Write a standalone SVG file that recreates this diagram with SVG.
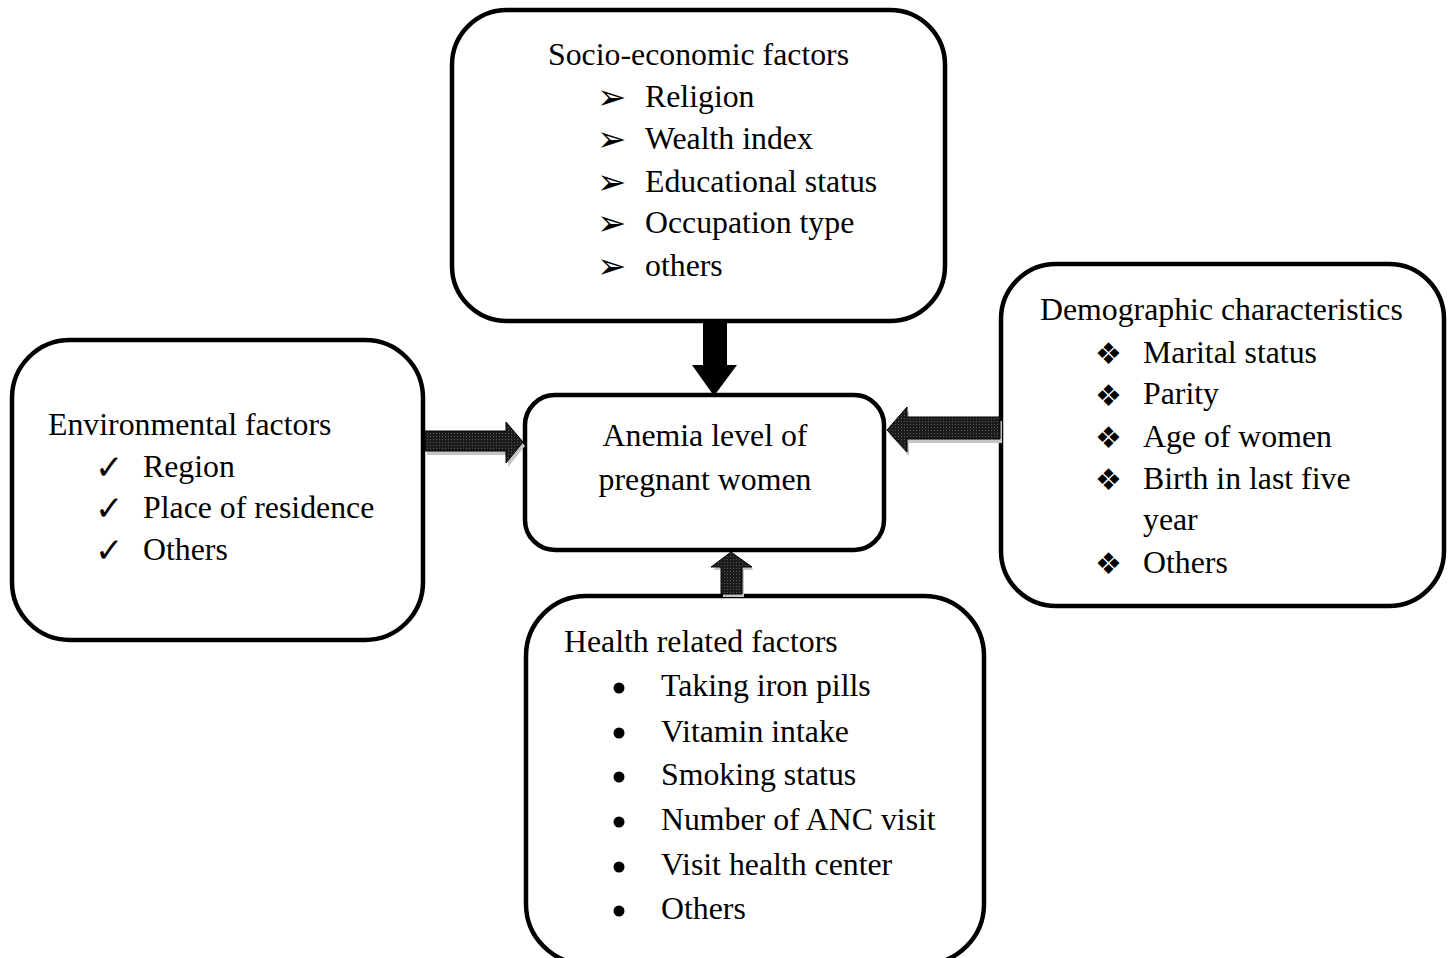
<svg xmlns="http://www.w3.org/2000/svg" width="1452" height="958" viewBox="0 0 1452 958">
<defs>
<style>
.box{fill:#fff;stroke:#000;stroke-width:4.5}
.t{font-family:"Liberation Serif","Times New Roman",serif;font-size:31.8px;fill:#000}
.b{font-family:"DejaVu Sans",sans-serif;fill:#000}
.shadow{fill:#c4c4c4}
.arr{fill:url(#tex);stroke:#000;stroke-width:1}
</style>
<pattern id="tex" width="3" height="3" patternUnits="userSpaceOnUse">
<rect width="3" height="3" fill="#1c1c1c"/>
<rect x="1" y="1" width="1" height="1" fill="#555"/>
</pattern>
</defs>
<rect width="1452" height="958" fill="#fff"/>

<g id="socio">
<rect class="box" x="452" y="10" width="493" height="311" rx="55"/>
<text class="t" x="548" y="65">Socio-economic factors</text>
<g class="b" font-size="35">
<text x="597" y="109">➢</text><text x="597" y="151">➢</text><text x="597" y="194">➢</text><text x="597" y="235">➢</text><text x="597" y="278">➢</text>
</g>
<text class="t" x="645" y="107">Religion</text>
<text class="t" x="645" y="149">Wealth index</text>
<text class="t" x="645" y="192">Educational status</text>
<text class="t" x="645" y="233">Occupation type</text>
<text class="t" x="645" y="276">others</text>
</g>

<g id="environmental">
<rect class="box" x="12" y="340" width="411" height="300" rx="58"/>
<text class="t" x="48" y="435">Environmental factors</text>
<g class="b" font-size="34">
<text x="95" y="479">✓</text><text x="95" y="520">✓</text><text x="95" y="562">✓</text>
</g>
<text class="t" x="143" y="477">Region</text>
<text class="t" x="143" y="518">Place of residence</text>
<text class="t" x="143" y="560">Others</text>
</g>

<g id="demographic">
<rect class="box" x="1001" y="264" width="443" height="342" rx="55"/>
<text class="t" x="1040" y="320">Demographic characteristics</text>
<g class="b" font-size="30">
<text x="1095" y="364">❖</text><text x="1095" y="406">❖</text><text x="1095" y="448">❖</text><text x="1095" y="490">❖</text><text x="1095" y="574">❖</text>
</g>
<text class="t" x="1143" y="363">Marital status</text>
<text class="t" x="1143" y="404">Parity</text>
<text class="t" x="1143" y="447">Age of women</text>
<text class="t" x="1143" y="489">Birth in last five</text>
<text class="t" x="1143" y="530">year</text>
<text class="t" x="1143" y="573">Others</text>
</g>

<g id="anemia">
<rect class="box" x="525" y="395" width="359" height="155" rx="30"/>
<text class="t" x="705" y="446" text-anchor="middle">Anemia level of</text>
<text class="t" x="705" y="490" text-anchor="middle">pregnant women</text>
</g>

<g id="health">
<rect class="box" x="526" y="596" width="458" height="368" rx="60"/>
<text class="t" x="564" y="652">Health related factors</text>
<g fill="#000">
<circle cx="619" cy="688" r="5.5"/><circle cx="619" cy="733" r="5.5"/><circle cx="619" cy="777" r="5.5"/><circle cx="619" cy="822" r="5.5"/><circle cx="619" cy="867" r="5.5"/><circle cx="619" cy="911" r="5.5"/>
</g>
<text class="t" x="661" y="696">Taking iron pills</text>
<text class="t" x="661" y="742">Vitamin intake</text>
<text class="t" x="661" y="785">Smoking status</text>
<text class="t" x="661" y="830">Number of ANC visit</text>
<text class="t" x="661" y="875">Visit health center</text>
<text class="t" x="661" y="919">Others</text>
</g>

<g id="connectors">
<polygon fill="#000" points="703,322 727,322 727,365 737,365 714,396 692,365 703,365"/>
<polygon class="shadow" transform="translate(2,4)" points="425,431 506,431 506,422 523,442 506,463 506,451 425,451"/>
<polygon class="arr" points="425,431 506,431 506,422 523,442 506,463 506,451 425,451"/>
<polygon class="shadow" transform="translate(2,4)" points="1000,417 907,417 907,407 887,430 907,452 907,439 1000,439"/>
<polygon class="arr" points="1000,417 907,417 907,407 887,430 907,452 907,439 1000,439"/>
<polygon class="shadow" transform="translate(2,3)" points="721,594 721,567 711,567 731,552 752,567 742,567 742,594"/>
<polygon class="arr" points="721,594 721,567 711,567 731,552 752,567 742,567 742,594"/>
</g>
</svg>
